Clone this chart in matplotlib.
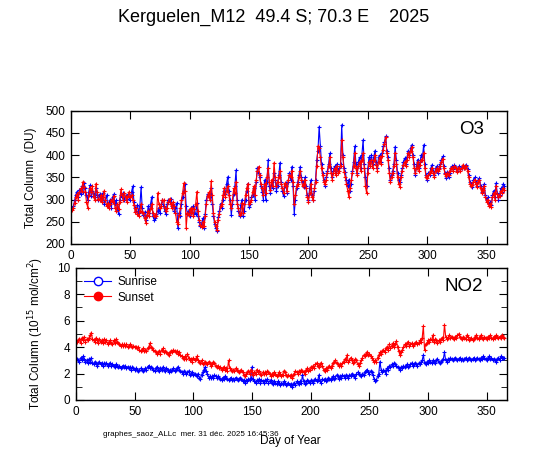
import matplotlib
matplotlib.use('Agg')
import matplotlib.pyplot as plt
from matplotlib.lines import Line2D
from matplotlib.ticker import MultipleLocator

plt.rcParams['font.family'] = ['Liberation Sans', 'DejaVu Sans']

# jour de l'annee 1..365
jours = list(range(1, 366))

# O3 colonne totale (DU)
o3_lever = [
    280, 285, 298, 310, 318, 305, 322, 312, 330, 318,
    338, 325, 310, 300, 318, 332, 308, 320, 312, 305,
    325, 310, 300, 312, 298, 305, 315, 290, 300, 310,
    285, 292, 300, 282, 305, 312, 290, 298, 280, 268,
    300, 310, 305, 315, 298, 308, 302, 312, 306, 300,
    318, 330, 295, 282, 275, 288, 270, 285, 328, 280,
    265, 272, 255, 262, 285, 270, 290, 306, 262, 255,
    258, 268, 275, 282, 270, 290, 298, 285, 275, 268,
    290, 300, 295, 302, 285, 290, 275, 280, 292, 235,
    270, 262, 290, 305, 320, 336, 285, 268, 275, 262,
    280, 272, 285, 270, 268, 292, 262, 250, 240, 245,
    258, 236, 268, 300, 312, 310, 305, 325, 290, 262,
    245, 235, 230, 260, 275, 291, 282, 300, 320, 312,
    335, 351, 320, 300, 265, 290, 312, 330, 366, 300,
    275, 262, 288, 300, 262, 275, 300, 320, 336, 284,
    290, 305, 310, 325, 300, 340, 372, 360, 350, 330,
    318, 300, 344, 300, 340, 389, 330, 315, 340, 325,
    360, 345, 320, 330, 355, 383, 340, 320, 307, 330,
    337, 315, 340, 360, 345, 374, 330, 268, 300, 325,
    340, 355, 374, 350, 340, 329, 350, 330, 310, 300,
    325, 344, 310, 299, 320, 345, 390, 410, 464, 420,
    380, 360, 345, 330, 350, 365, 381, 404, 370, 350,
    365, 375, 360, 380, 365, 370, 380, 468, 400, 370,
    363, 345, 330, 345, 320, 335, 365, 385, 420, 380,
    360, 385, 395, 370, 400, 434, 380, 350, 330, 370,
    395, 385, 400, 380, 395, 410, 385, 370, 395, 400,
    385, 405, 420, 430, 442, 410, 395, 370, 345, 355,
    365, 380, 419, 390, 360, 345, 340, 355, 370, 385,
    393, 380, 395, 410, 400, 415, 423, 400, 380, 355,
    375, 390, 370, 385, 400, 395, 423, 380, 355, 344,
    360, 355, 370, 378, 365, 355, 370, 375, 360, 372,
    380, 390, 397, 375, 360, 348, 363, 350, 360, 372,
    375, 368, 378, 370, 365, 372, 375, 368, 372, 375,
    370, 375, 378, 368, 355, 340, 335, 329, 345, 350,
    340, 330, 345, 348, 330, 318, 325, 335, 310, 300,
    305, 290, 295, 288, 310, 320, 305, 337, 315, 300,
    310, 325, 318, 335, 330,
]
o3_coucher = [
    276, 282, 292, 305, 312, 300, 316, 325, 320, 340,
    328, 318, 295, 282, 310, 325, 318, 330, 305, 300,
    336, 318, 302, 298, 310, 295, 305, 320, 298, 285,
    292, 280, 290, 300, 295, 308, 282, 275, 290, 278,
    295, 323, 310, 300, 315, 305, 295, 308, 318, 305,
    310, 300, 288, 272, 280, 268, 262, 275, 290, 272,
    270, 258, 248, 265, 275, 262, 280, 290, 270, 262,
    265, 262, 315, 290, 280, 285, 300, 298, 282, 275,
    282, 295, 302, 290, 280, 295, 285, 270, 250, 245,
    265, 280, 300, 315, 337, 320, 236, 270, 265, 278,
    270, 282, 262, 278, 290, 318, 275, 255, 242, 238,
    250, 240, 262, 290, 308, 316, 298, 341, 310, 270,
    250, 240, 232, 255, 268, 285, 290, 310, 325, 305,
    320, 330, 310, 290, 280, 300, 325, 315, 340, 290,
    280, 265, 270, 292, 270, 290, 310, 325, 336, 290,
    295, 300, 318, 330, 310, 345, 365, 374, 355, 335,
    325, 310, 335, 315, 350, 370, 340, 322, 345, 330,
    383, 350, 330, 340, 350, 365, 335, 325, 315, 337,
    330, 320, 345, 355, 350, 365, 340, 290, 310, 330,
    335, 350, 365, 345, 330, 335, 345, 325, 305, 295,
    315, 335, 305, 300, 325, 340, 375, 420, 415, 395,
    370, 355, 340, 335, 345, 360, 375, 395, 360, 345,
    360, 370, 355, 375, 360, 365, 375, 434, 395, 363,
    350, 335, 320, 306, 325, 345, 360, 375, 405, 370,
    355, 375, 385, 365, 390, 405, 370, 330, 314, 360,
    385, 375, 390, 370, 388, 400, 378, 365, 385, 395,
    380, 398, 412, 425, 440, 405, 390, 360, 340, 350,
    360, 375, 405, 380, 350, 335, 329, 350, 365, 378,
    385, 375, 390, 405, 395, 410, 418, 395, 372, 360,
    370, 385, 365, 378, 390, 388, 405, 372, 350, 348,
    355, 360, 365, 372, 360, 350, 365, 370, 365, 368,
    375, 385, 392, 370, 358, 352, 360, 355, 365, 370,
    372, 365, 375, 372, 362, 370, 372, 365, 370, 378,
    372, 370, 375, 365, 350, 335, 330, 332, 340, 345,
    335, 328, 340, 345, 325, 315, 322, 330, 305, 295,
    300, 285, 290, 284, 305, 315, 300, 330, 312, 305,
    308, 320, 315, 325, 322,
]

# NO2 colonne totale (1e15 mol/cm2)
no2_lever = [
    3.1, 3.0, 2.9, 3.2, 3.0, 3.3, 3.1, 2.9, 3.0, 2.8,
    3.1, 2.9, 3.2, 2.8, 2.7, 2.9, 2.8, 2.6, 2.8, 2.9,
    2.7, 2.8, 2.6, 2.8, 2.7, 2.8, 2.6, 2.7, 2.8, 2.6,
    2.7, 2.6, 2.5, 2.7, 2.6, 2.5, 2.6, 2.4, 2.5, 2.6,
    2.5, 2.6, 2.4, 2.5, 2.4, 2.5, 2.3, 2.5, 2.4, 2.3,
    2.4, 2.3, 2.2, 2.3, 2.4, 2.3, 2.2, 2.3, 2.4, 2.3,
    2.5, 2.6, 2.4, 2.5, 2.4, 2.3, 2.2, 2.4, 2.5, 2.3,
    2.2, 2.4, 2.3, 2.5, 2.3, 2.2, 2.4, 2.3, 2.1, 2.3,
    2.2, 2.3, 2.4, 2.2, 2.3, 2.4, 2.5, 2.3, 2.2, 2.1,
    2.0, 2.2, 2.1, 2.0, 2.1, 2.2, 1.9, 2.0, 2.1, 1.9,
    2.0, 1.9, 1.8, 2.0, 1.7, 1.6, 1.9, 2.1, 2.3, 2.5,
    2.2, 2.0, 1.7, 1.8, 1.7, 1.8, 1.7, 1.9, 1.8, 1.7,
    1.8, 1.7, 1.6, 1.5, 1.7, 1.6, 1.8, 1.7, 1.6, 1.5,
    1.6, 1.7, 1.5, 1.6, 1.5, 1.7, 1.6, 1.5, 1.6, 1.7,
    1.6, 1.4, 1.5, 1.3, 1.5, 1.4, 1.6, 1.5, 1.7, 2.5,
    1.6, 1.4, 1.3, 1.5, 1.4, 1.6, 1.3, 1.5, 1.4, 1.3,
    1.5, 1.4, 1.6, 1.3, 1.4, 1.5, 1.3, 1.2, 1.4, 1.3,
    1.2, 1.4, 1.3, 1.1, 1.3, 1.2, 1.4, 1.3, 1.1, 1.2,
    1.3, 1.1, 1.2, 1.0, 1.2, 1.3, 1.1, 1.4, 1.3, 1.2,
    1.4, 1.3, 1.9, 1.4, 1.2, 1.3, 1.5, 1.4, 1.3, 1.5,
    1.4, 1.3, 1.5, 1.6, 1.4, 1.5, 1.9, 1.4, 1.3, 1.6,
    1.5, 1.6, 1.4, 1.5, 1.7, 1.6, 1.5, 1.7, 1.8, 1.6,
    1.7, 1.9, 1.8, 1.6, 1.8, 1.7, 1.9, 1.8, 1.7, 1.9,
    1.8, 1.7, 1.9, 1.8, 2.0, 1.9, 1.8, 1.7, 2.0, 2.1,
    2.0, 1.9, 1.8, 2.0, 1.9, 2.1, 2.2, 2.3, 2.1, 2.0,
    2.2, 2.1, 1.9, 1.6, 1.4, 1.5, 1.8, 2.0, 2.9, 2.3,
    2.1, 2.3, 2.2, 2.0, 2.4, 2.3, 2.6, 2.5, 2.7, 2.6,
    2.8, 2.7, 2.6, 2.5, 2.4, 2.3, 2.5, 2.4, 2.6, 2.5,
    2.6, 2.7, 2.5, 2.6, 2.7, 2.8, 2.6, 2.7, 2.8, 2.7,
    2.6, 2.8, 2.7, 2.9, 3.0, 3.4, 2.8, 2.7, 2.9, 2.8,
    3.0, 2.9, 2.8, 3.0, 2.9, 2.8, 3.0, 3.1, 2.9, 2.8,
    2.9, 3.0, 3.1, 3.6, 3.0, 2.9, 3.1, 3.0, 3.2, 3.1,
    3.0, 3.1, 3.2, 3.1, 3.0, 3.1, 3.2, 3.0, 3.1, 3.0,
    3.1, 3.2, 3.0, 3.1, 3.2, 3.1, 3.0, 3.1, 3.2, 3.0,
    3.1, 3.2, 3.1, 3.0, 3.2, 3.1, 3.3, 3.2, 3.1, 3.0,
    3.2, 3.3, 3.1, 3.2, 3.0, 3.1, 3.0, 2.9, 3.1, 3.2,
    3.0, 3.3, 3.2, 3.2, 3.2,
]
no2_coucher = [
    4.4, 4.5, 4.6, 4.3, 4.7, 4.5, 4.8, 4.4, 4.6, 4.5,
    4.7, 4.9, 5.1, 4.6, 4.5, 4.4, 4.7, 4.5, 4.3, 4.6,
    4.4, 4.5, 4.3, 4.6, 4.4, 4.5, 4.2, 4.4, 4.5, 4.3,
    4.2, 4.5, 4.3, 4.6, 4.4, 4.3, 4.2, 4.1, 4.2, 4.1,
    4.2, 4.1, 4.2, 4.0, 4.1, 4.2, 4.1, 4.0, 4.1, 4.0,
    4.0, 3.9, 4.0, 3.8, 3.7, 3.8, 3.9, 3.7, 3.8, 3.7,
    3.9, 4.0, 4.3, 4.0, 3.9, 3.8, 3.7, 3.6, 3.5, 3.6,
    3.7, 3.5, 3.8, 3.9, 3.6, 3.7, 3.6, 3.5, 3.4, 3.6,
    3.7, 3.6, 3.8, 3.7, 3.6, 3.7, 3.5, 3.6, 3.4, 3.3,
    3.2, 3.1, 3.3, 3.1, 3.5, 3.2, 3.0, 3.1, 2.9, 3.2,
    3.0, 3.1, 3.3, 3.0, 2.9, 2.8, 3.0, 2.7, 2.8, 2.9,
    2.8, 2.7, 2.9, 2.8, 2.6, 2.7, 2.9, 2.8, 2.6, 2.5,
    2.6, 2.4, 2.5, 2.3, 2.4, 2.5, 2.3, 2.4, 2.2, 3.0,
    2.4, 2.3, 2.2, 2.3, 2.2, 2.4, 2.3, 2.2, 2.1, 2.2,
    2.3, 2.1, 1.9, 1.8, 2.0, 2.1, 2.2, 2.0, 2.3, 2.1,
    1.9, 2.1, 2.0, 2.3, 2.1, 2.2, 2.0, 1.9, 2.1, 2.0,
    2.1, 2.0, 2.2, 2.1, 2.0, 1.8, 2.0, 1.9, 2.1, 2.0,
    1.8, 1.9, 2.1, 2.0, 1.8, 1.9, 2.2, 2.1, 1.9, 1.8,
    1.9, 1.8, 1.9, 1.7, 1.9, 2.0, 2.2, 2.1, 2.0, 2.2,
    2.1, 2.3, 2.2, 2.1, 2.0, 2.3, 2.4, 2.2, 2.3, 2.5,
    2.4, 2.6, 2.4, 2.7, 2.8, 2.6, 2.5, 2.7, 2.8, 2.6,
    2.3, 2.2, 2.4, 2.3, 2.5, 2.6, 2.4, 2.6, 2.8, 2.9,
    3.0, 2.8, 2.7, 2.6, 2.7, 2.6, 2.8, 2.9, 3.1, 3.0,
    3.4, 2.9, 3.0, 3.2, 3.0, 2.8, 2.9, 3.1, 3.0, 2.7,
    2.6, 2.8, 3.0, 3.2, 3.4, 3.3, 3.5, 3.65, 3.4, 3.5,
    3.3, 3.2, 3.0, 2.9, 3.0, 2.9, 3.2, 3.4, 3.6, 3.5,
    3.7, 3.8, 3.6, 3.9, 4.0, 3.8, 4.2, 3.9, 4.1, 4.3,
    4.0, 4.2, 4.46, 4.0, 3.7, 3.4, 3.6, 3.8, 4.0, 4.2,
    4.1, 4.3, 4.4, 4.1, 4.2, 4.3, 4.1, 4.2, 4.3, 4.4,
    4.2, 4.3, 4.5, 4.4, 4.7, 5.6, 3.8, 4.2, 4.3, 4.5,
    4.4, 4.6, 4.5, 4.9, 4.4, 4.6, 4.5, 4.3, 4.5, 4.4,
    4.6, 4.7, 4.5, 5.7, 4.8, 4.6, 4.7, 4.9, 4.7, 4.8,
    4.7, 4.6, 4.8, 4.7, 4.9, 5.0, 4.8, 4.7, 4.6, 4.8,
    4.7, 4.6, 4.9, 4.8, 4.5, 4.6, 4.7, 4.5, 4.6, 4.8,
    4.9, 4.7, 4.6, 4.8, 4.9, 4.7, 4.6, 4.8, 4.7, 4.6,
    4.8, 4.7, 4.9, 4.7, 4.6, 4.8, 4.7, 4.9, 4.8, 4.7,
    4.8, 4.7, 4.9, 4.8, 4.7,
]

fig = plt.figure(figsize=(5.4, 4.53), dpi=100)
ax1 = fig.add_axes([0.1315, 0.4614, 0.8069, 0.2943])
ax2 = fig.add_axes([0.1407, 0.117, 0.7976, 0.292])

style = dict(lw=0.8, marker='+', ms=3.5, mew=0.8)

ax1.plot(jours, o3_lever, color='#0000ff', **style)
ax1.plot(jours, o3_coucher, color='#ff0000', **style)
ax1.set_xlim(0, 367)
ax1.set_ylim(200, 500)
ax1.yaxis.set_major_locator(MultipleLocator(50))
ax1.xaxis.set_major_locator(MultipleLocator(50))
ax1.set_ylabel('Total Column  (DU)', fontsize=8.5, labelpad=6)
ax1.text(0.92, 0.86, 'O3', transform=ax1.transAxes, fontsize=13.5, ha='center', va='center')

ax2.plot(jours, no2_lever, color='#0000ff', **style)
ax2.plot(jours, no2_coucher, color='#ff0000', **style)
ax2.set_xlim(0, 367)
ax2.set_ylim(0, 10)
ax2.yaxis.set_major_locator(MultipleLocator(2))
ax2.yaxis.set_minor_locator(MultipleLocator(1))
ax2.xaxis.set_major_locator(MultipleLocator(50))
ax2.set_ylabel('Total Column (10$^{15}$ mol/cm$^{2}$)', fontsize=8.5, labelpad=8)
ax2.text(0.9, 0.86, 'NO2', transform=ax2.transAxes, fontsize=13.5, ha='center', va='center')

poignees = [
    Line2D([], [], color='#0000ff', lw=0.8, marker='o', ms=6, mfc='white', mec='#0000ff'),
    Line2D([], [], color='#ff0000', lw=0.8, marker='o', ms=6, mfc='#ff0000', mec='#ff0000'),
]
ax2.legend(poignees, ['Sunrise', 'Sunset'], loc='upper left', frameon=False, fontsize=8.5,
           handlelength=2.3, borderaxespad=0.3, labelspacing=0.3, handletextpad=0.5)

for ax in (ax1, ax2):
    ax.tick_params(which='both', direction='in', top=True, right=True, labelsize=8.5, pad=4)
    ax.tick_params(which='major', length=5.5)
    ax.tick_params(which='minor', length=4)
    for s in ax.spines.values():
        s.set_linewidth(1.0)

fig.text(0.507, 0.962, 'Kerguelen_M12  49.4 S; 70.3 E    2025', fontsize=13, ha='center', va='center')
fig.text(0.19, 0.04, 'graphes_saoz_ALLc  mer. 31 déc. 2025 16:45:36', fontsize=5.8, ha='left', va='center')
fig.text(0.537, 0.027, 'Day of Year', fontsize=8.5, ha='center', va='center')

fig.savefig('out.png', dpi=100)
